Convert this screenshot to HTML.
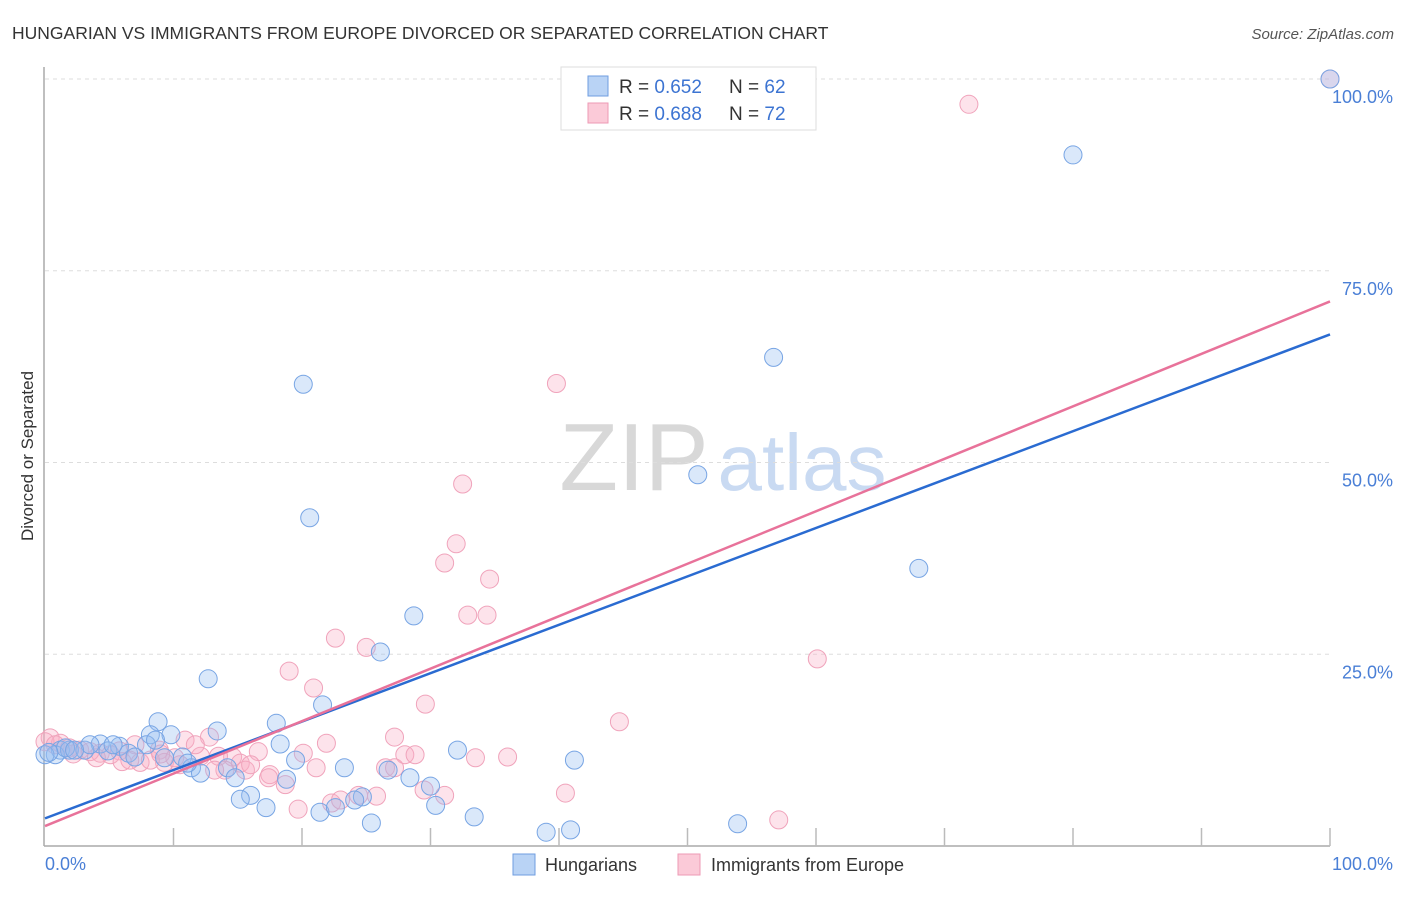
<!DOCTYPE html>
<html><head><meta charset="utf-8"><style>
body{margin:0;background:#fff;font-family:"Liberation Sans",sans-serif;}
svg text{font-family:"Liberation Sans",sans-serif;}
</style></head><body>
<svg width="1406" height="892" viewBox="0 0 1406 892">
<text x="12" y="39" font-size="17.5" fill="#333">HUNGARIAN VS IMMIGRANTS FROM EUROPE DIVORCED OR SEPARATED CORRELATION CHART</text>
<text x="1394" y="39" font-size="15" fill="#555" font-style="italic" text-anchor="end">Source: ZipAtlas.com</text>
<text x="33" y="456" font-size="17" fill="#333" text-anchor="middle" transform="rotate(-90 33 456)">Divorced or Separated</text>
<g>
<text x="634" y="490" font-size="96" fill="#d8d8d8" font-family="Liberation Serif,serif" text-anchor="middle">ZIP</text>
<text x="802" y="490" font-size="80" fill="#c9daf2" text-anchor="middle">atlas</text>
</g>
<g id="grid"></g>
<line x1="44" y1="67" x2="44" y2="846" stroke="#aaa" stroke-width="1.5"/>
<line x1="44" y1="846" x2="1330" y2="846" stroke="#aaa" stroke-width="1.5"/>
<g id="xticks"></g>
<g id="ylabels"></g>
<text x="45" y="870" font-size="18" fill="#4a7fd6">0.0%</text>
<text x="1393" y="870" font-size="18" fill="#4a7fd6" text-anchor="end">100.0%</text>
<g id="pinkpts"></g>
<g id="bluepts"></g>
<g id="lines"></g>
<g>
<rect x="561" y="67" width="255" height="63" fill="#fff" stroke="#ddd"/>
<rect x="588" y="76" width="20" height="20" fill="#b9d3f5" stroke="#6f9ee0"/>
<rect x="588" y="103" width="20" height="20" fill="#fbcad8" stroke="#ee9ab5"/>
<text x="619" y="93" font-size="19" fill="#333">R = <tspan fill="#3c74d2">0.652</tspan></text>
<text x="729" y="93" font-size="19" fill="#333">N = <tspan fill="#3c74d2">62</tspan></text>
<text x="619" y="120" font-size="19" fill="#333">R = <tspan fill="#3c74d2">0.688</tspan></text>
<text x="729" y="120" font-size="19" fill="#333">N = <tspan fill="#3c74d2">72</tspan></text>
</g>
<g>
<rect x="513" y="854" width="22" height="21" fill="#b9d3f5" stroke="#6f9ee0"/>
<text x="545" y="871" font-size="18" fill="#333">Hungarians</text>
<rect x="678" y="854" width="22" height="21" fill="#fbcad8" stroke="#ee9ab5"/>
<text x="711" y="871" font-size="18" fill="#333">Immigrants from Europe</text>
</g>
</svg>
<script>
const yTicks=[25,50,75,100];
const yTickLabels=["25.0%","50.0%","75.0%","100.0%"];
const xTicks=[10,20,30,40,50,60,70,80,90,100];
const blueX=[100,80,56.7,20.1,50.8,68,20.6,28.7,26.1,12.7,21.6,8.8,18,13.4,9.8,8.2,18.3,7.9,5.8,4.3,1.2,0.8,1.9,3.1,4.9,6.5,7,10.7,11.4,12.1,14.2,14.8,16,15.2,17.2,18.8,19.5,23.3,26.7,28.4,30,30.4,32.1,41.2,24.7,24.1,21.4,22.6,25.4,33.4,39,40.9,53.9,0,3.5,1.6,2.3,5.3,9.3,11.1,8.6,0.3];
const blueY=[100,90.1,63.7,60.2,48.4,36.2,42.8,30,25.3,21.8,18.4,16.2,16,15,14.5,14.5,13.3,13.2,13,13.3,12.5,11.9,12.5,12.5,12.4,12.1,11.6,11.6,10.2,9.5,10.2,8.9,6.6,6.1,5,8.7,11.2,10.2,9.9,8.9,7.8,5.3,12.5,11.2,6.4,6,4.4,5,3,3.8,1.8,2.1,2.9,11.9,13.2,12.8,12.5,13.2,11.5,10.8,13.8,12.2];
const pinkX=[100,71.9,39.8,32.5,32,31.1,34.6,32.9,34.4,22.6,25,60.1,19,20.9,29.6,44.7,12.8,27.2,21.9,10.9,20.1,16.6,14.6,15.2,28,28.8,33.5,36,8.9,7,5.8,4.3,2.7,0.4,1.2,3.5,5.1,7.4,9.3,12.1,13.5,15.6,17.5,17.4,18.7,21.1,26.5,27.2,29.5,31.1,25.8,24.4,22.3,19.7,40.5,57.1,0,1.9,8.2,10.5,14,16,6.6,11.7,13.2,0.8,10.1,23,4,2.2,6,9];
const pinkY=[100,96.7,60.3,47.2,39.4,36.9,34.8,30.1,30.1,27.1,25.9,24.4,22.8,20.6,18.5,16.2,14.2,14.2,13.4,13.8,12.1,12.3,11.6,10.8,11.9,11.9,11.5,11.6,12.5,13.2,12.4,12.1,12.5,14.1,13.4,12.3,11.9,10.9,10.9,11.7,11.7,9.9,9.3,8.9,8,10.2,10.2,10.2,7.3,6.6,6.5,6.6,5.6,4.8,6.9,3.4,13.6,12.8,11.2,10.6,9.9,10.6,11.2,13.2,9.9,13.2,11.5,6,11.5,12,11,12];
const blueTrend=[3.6,66.7];
const pinkTrend=[2.6,71.0];
const NS="http://www.w3.org/2000/svg";
const X=v=>45+v*12.85, Y=v=>846-v*7.67;
function mk(t,a,p){const e=document.createElementNS(NS,t);for(const k in a)e.setAttribute(k,a[k]);p.appendChild(e);return e;}
const grid=document.getElementById('grid'),yl=document.getElementById('ylabels'),xt=document.getElementById('xticks');
yTicks.forEach((v,i)=>{
 const l=mk('line',{x1:45,x2:1330,y1:Y(v),y2:Y(v),stroke:'#ddd','stroke-dasharray':'4,4'},grid);
 
 
 const t=mk('text',{x:1393,y:Y(v)+24,'font-size':18,fill:'#4a7fd6','text-anchor':'end'},yl);
 t.textContent=yTickLabels[i];
 
 
});
xTicks.forEach(v=>{
 const l=mk('line',{x1:X(v),x2:X(v),y1:828,y2:846,stroke:'#bbb','stroke-width':1.5},xt);
 
 
});
function pts(xs,ys,g,fill,stroke,name){xs.forEach((x,i)=>{
 const c=mk('circle',{cx:X(x),cy:Y(ys[i]),r:9,fill:fill,stroke:stroke,'stroke-width':1},document.getElementById(g));
 
 
});}
pts(pinkX,pinkY,'pinkpts','rgba(248,175,198,0.35)','#f0a3bb','immigrants-point');
pts(blueX,blueY,'bluepts','rgba(150,190,240,0.35)','#78a5e4','hungarians-point');
const lg=document.getElementById('lines');
const bl=mk('line',{x1:X(0),y1:Y(blueTrend[0]),x2:X(100),y2:Y(blueTrend[1]),stroke:'#2a6bd1','stroke-width':2.5},lg);


const pl=mk('line',{x1:X(0),y1:Y(pinkTrend[0]),x2:X(100),y2:Y(pinkTrend[1]),stroke:'#e8729a','stroke-width':2.5},lg);


</script>
</body></html>
